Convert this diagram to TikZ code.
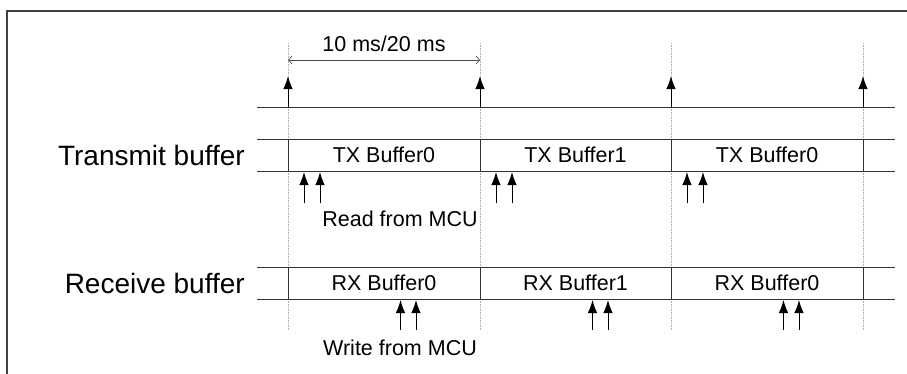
\documentclass[tikz,border=0pt]{standalone}
\usepackage{fontspec}
\setmainfont{Liberation Sans}
\usetikzlibrary{positioning}
\usetikzlibrary{arrows.meta}

\tikzset{
  gridline/.style={draw=black!30, densely dotted, line width=0.6pt},
  rowline/.style={draw=black!80, line width=0.9pt},
  tickarrow/.style={-{Latex[length=13pt,width=9.5pt]}, line width=1pt},
  celltext/.style={font=\fontsize{21.5}{24}\selectfont, inner sep=0pt},
  rowname/.style={font=\fontsize{28}{32}\selectfont, anchor=east, inner sep=0pt},
}

\begin{document}
\begin{tikzpicture}[x=1pt,y=-1pt]
\useasboundingbox (0,0) rectangle (907,373);

% frame, cut off at right and bottom
\draw[line width=1.3pt, black!75] (7,380) -- (7,11) -- (915,11);

% grid and time marks
\foreach \i/\x in {0/288,1/480,2/671,3/863} {
  \coordinate (g\i) at (\x,43);
  \coordinate (h\i) at (\x,330);
  \coordinate (t\i) at (\x,107);
  \coordinate (u\i) at (\x,76);
  \draw[gridline] (g\i) -- (h\i);
}

% period
\node (period) at (384,51) [celltext, anchor=base] {10 ms/20 ms};
\coordinate (pa) at (288,60);
\coordinate (pb) at (480,60);
\draw[black!70, line width=0.7pt, {Straight Barb[length=3.5pt,width=8pt]}-{Straight Barb[length=3.5pt,width=8pt]}] (pa) -- (pb);

% timeline
\coordinate (tl) at (257,107);
\coordinate (tr) at (895,107);
\draw[rowline] (tl) -- (tr);
\foreach \i in {0,1,2,3}
  \draw[tickarrow] (t\i) -- (u\i);

% transmit buffer
\node (tx) at (245,155) [rowname] {Transmit buffer};
\coordinate (txa) at (257,139);
\coordinate (txb) at (895,139);
\coordinate (txc) at (257,171);
\coordinate (txd) at (895,171);
\draw[rowline] (txa) -- (txb);
\draw[rowline] (txc) -- (txd);
\foreach \i/\x in {0/288,1/480,2/671,3/863}
  \draw[rowline] (\x,139) -- (\x,171);
\node (tx0) at (384,155) [celltext] {TX Buffer0};
\node (tx1) at (575.5,155) [celltext] {TX Buffer1};
\node (tx2) at (767,155) [celltext] {TX Buffer0};
\foreach \x in {288,480,671} {
  \draw[tickarrow] (\x+16,203) -- (\x+16,172);
  \draw[tickarrow] (\x+32,203) -- (\x+32,172);
}
\node (rd) at (400,226) [celltext, anchor=base] {Read from MCU};

% receive buffer
\node (rx) at (245,283) [rowname] {Receive buffer};
\coordinate (rxa) at (257,267);
\coordinate (rxb) at (895,267);
\coordinate (rxc) at (257,299);
\coordinate (rxd) at (895,299);
\draw[rowline] (rxa) -- (rxb);
\draw[rowline] (rxc) -- (rxd);
\foreach \i/\x in {0/288,1/480,2/671,3/863}
  \draw[rowline] (\x,267) -- (\x,299);
\node (rx0) at (384,283) [celltext] {RX Buffer0};
\node (rx1) at (575.5,283) [celltext] {RX Buffer1};
\node (rx2) at (767,283) [celltext] {RX Buffer0};
\foreach \x in {288,480,671} {
  \draw[tickarrow] (\x+112.5,330) -- (\x+112.5,300);
  \draw[tickarrow] (\x+128,330) -- (\x+128,300);
}
\node (wr) at (400,355) [celltext, anchor=base] {Write from MCU};
\end{tikzpicture}
\end{document}
